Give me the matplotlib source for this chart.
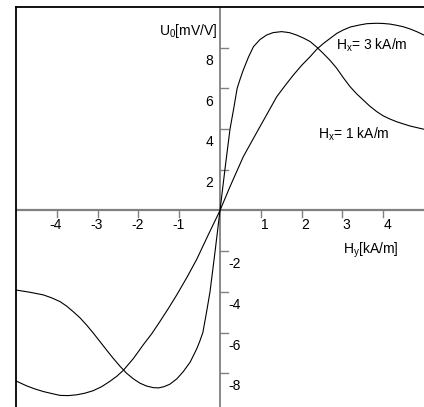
import matplotlib
matplotlib.use("Agg")
import matplotlib.pyplot as plt

plt.rcParams['font.family'] = ['Liberation Sans', 'DejaVu Sans']
plt.rcParams['mathtext.default'] = 'regular'

# кривая для Hx = 1 kA/m (крутая)
hy_1 = [-5.0, -4.66, -4.33, -4.12, -3.92, -3.76, -3.6, -3.43, -3.27, -3.1, -2.94, -2.78,
        -2.62, -2.45, -2.29, -2.12, -1.96, -1.8, -1.63, -1.5, -1.37, -1.23, -1.06, -0.9,
        -0.73, -0.57, -0.5, -0.42, -0.33, -0.245, -0.12, 0,
        0.12, 0.245, 0.33, 0.42, 0.5, 0.57, 0.7, 0.82, 0.98, 1.14, 1.3, 1.51, 1.7, 1.88,
        2.05, 2.21, 2.37, 2.53, 2.7, 2.86, 3.02, 3.19, 3.35, 3.51, 3.67, 3.84, 4.0, 4.17,
        4.33, 4.5, 4.66, 4.83, 5.0]
u_1 = [-3.91, -4.02, -4.15, -4.3, -4.48, -4.7, -4.97, -5.28, -5.63, -6.04, -6.45, -6.86,
       -7.26, -7.66, -8.0, -8.28, -8.49, -8.63, -8.71, -8.72, -8.66, -8.54, -8.28, -7.92,
       -7.45, -6.8, -6.45, -6.0, -5.0, -4.0, -2.0, 0,
       2.0, 4.0, 4.94, 6.0, 6.5, 6.9, 7.55, 8.05, 8.4, 8.62, 8.74, 8.79, 8.74, 8.62,
       8.47, 8.3, 8.03, 7.72, 7.37, 6.99, 6.53, 6.08, 5.73, 5.43, 5.13, 4.86, 4.65, 4.49,
       4.36, 4.25, 4.15, 4.07, 3.99]

# кривая для Hx = 3 kA/m (пологая)
hy_3 = [-5.0, -4.87, -4.74, -4.54, -4.33, -4.12, -3.92, -3.72, -3.51, -3.31, -3.11, -2.9,
        -2.7, -2.53, -2.37, -2.12, -1.88, -1.67, -1.47, -1.26, -1.06, -0.8, -0.57, -0.3, 0,
        0.245, 0.57, 0.78, 0.98, 1.19, 1.39, 1.6, 1.8, 2.0, 2.21, 2.37, 2.53, 2.7, 2.86,
        3.02, 3.2, 3.43, 3.6, 3.84, 4.0, 4.17, 4.33, 4.49, 4.66, 4.82, 5.0]
u_3 = [-8.38, -8.5, -8.62, -8.77, -8.9, -9.0, -9.09, -9.1, -9.06, -8.98, -8.86, -8.66,
       -8.4, -8.15, -7.86, -7.27, -6.6, -6.05, -5.45, -4.8, -4.15, -3.25, -2.4, -1.25, 0,
       1.17, 2.64, 3.4, 4.12, 4.87, 5.59, 6.15, 6.66, 7.13, 7.56, 7.92, 8.2, 8.46, 8.7,
       8.87, 9.02, 9.12, 9.18, 9.2, 9.19, 9.16, 9.1, 9.03, 8.92, 8.79, 8.62]

x_ticks = [-4, -3, -2, -1, 1, 2, 3, 4]
y_ticks = [-8, -6, -4, -2, 2, 4, 6, 8]

W, H = 424, 407
fig = plt.figure(figsize=(W / 100, H / 100), dpi=100)
ax = fig.add_axes([16 / W, 0, 1 - 16 / W, 400 / H])
ax.set_xlim(-5, 5)
ax.set_ylim(-9.66, 10)

# рамка: только левая и верхняя видны
for s in ['right', 'bottom']:
    ax.spines[s].set_visible(False)
ax.spines['top'].set_linewidth(1.3)
ax.spines['left'].set_linewidth(1.3)
ax.set_xticks([])
ax.set_yticks([])

# оси через ноль
grey = '#808080'
ax.axhline(0, color=grey, linewidth=1.6, zorder=1)
ax.axvline(0, color=grey, linewidth=1.3, zorder=1)

# засечки и подписи к ним
for t in x_ticks:
    ax.plot([t, t], [0, -7 / 20.35], color=grey, linewidth=1.0, zorder=1)
    dx = -1 if t < 0 else 4
    ax.annotate(str(t), xy=(t, 0), xytext=(dx * 0.72, -10.5), textcoords='offset points',
                ha='center', va='center', fontsize=10)
for t in y_ticks:
    ax.plot([0, 8 / 40.8], [t, t], color=grey, linewidth=1.0, zorder=1)
    if t > 0:
        ax.annotate(str(t), xy=(0, t), xytext=(-5, -9.5), textcoords='offset points',
                    ha='right', va='center', fontsize=10)
    else:
        ax.annotate(str(t), xy=(0, t), xytext=(6, -9.5), textcoords='offset points',
                    ha='left', va='center', fontsize=10)

# кривые
ax.plot(hy_1, u_1, color='black', linewidth=0.8, zorder=3)
ax.plot(hy_3, u_3, color='black', linewidth=0.8, zorder=3)

# подписи
ax.text(2.84, 7.89, 'H$_x$= 3 kA/m', fontsize=10, ha='left', va='baseline')
ax.text(2.41, 3.51, 'H$_x$= 1 kA/m', fontsize=10, ha='left', va='baseline')
ax.text(3.02, -2.10, 'H$_y$[kA/m]', fontsize=10, ha='left', va='baseline')
ax.text(-0.05, 8.6, 'U$_0$[mV/V]', fontsize=10, ha='right', va='baseline')

fig.savefig('out.png', dpi=100)
